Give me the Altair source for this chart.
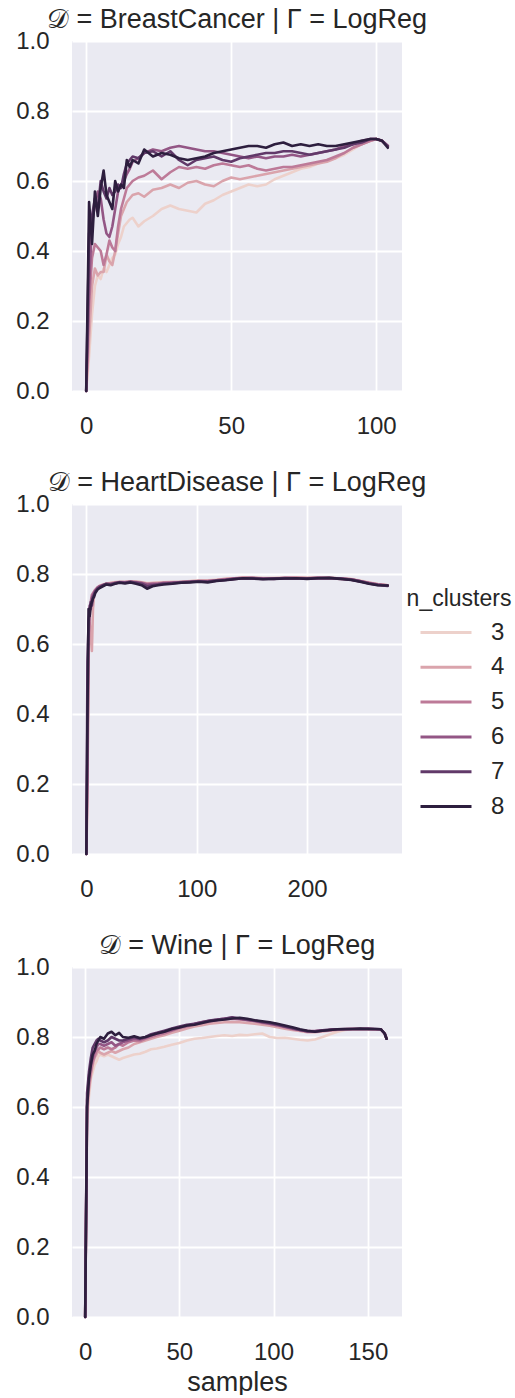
import altair as alt
import pandas as pd

CLUSTERS = [3, 4, 5, 6, 7, 8]
PALETTE = ["#edd1cb", "#daa4ac", "#bd7a98", "#935685", "#613969", "#2d1e3e"]

TITLES = [
    "𝒟 = BreastCancer | Γ = LogReg",
    "𝒟 = HeartDisease | Γ = LogReg",
    "𝒟 = Wine | Γ = LogReg",
]
Y_TICKS = [0.0, 0.2, 0.4, 0.6, 0.8, 1.0]

# ---------------- BreastCancer ----------------
BC_X = [0, 1, 2, 3, 4, 5, 6, 7, 8, 9, 10, 11, 12, 13, 14, 15, 16, 18, 20,
        23, 26, 29, 32, 35, 38, 41, 44, 47, 50, 53, 56, 59, 62, 65, 68, 71, 74,
        77, 80, 83, 86, 89, 92, 95, 98, 100, 102, 104]
BC_XTICKS = [0, 50, 100]
BC_3 = [0.00, 0.10, 0.22, 0.30, 0.33, 0.32, 0.35, 0.34, 0.36, 0.38, 0.39, 0.42, 0.44, 0.47, 0.48, 0.49, 0.495,
        0.47, 0.485,
        0.50, 0.52, 0.53, 0.52, 0.515, 0.51, 0.535, 0.545, 0.56, 0.57, 0.58, 0.59, 0.585, 0.59, 0.605, 0.615,
        0.625, 0.635, 0.64, 0.65, 0.66, 0.665, 0.675, 0.69, 0.705, 0.715,
        0.72, 0.715, 0.70]
BC_4 = [0.00, 0.15, 0.30, 0.35, 0.33, 0.34, 0.34, 0.39, 0.37, 0.36, 0.40, 0.45, 0.50, 0.52, 0.54, 0.55, 0.56,
        0.565, 0.555,
        0.575, 0.58, 0.59, 0.58, 0.595, 0.60, 0.59, 0.585, 0.60, 0.61, 0.605, 0.61, 0.615, 0.62, 0.625, 0.63,
        0.635, 0.64, 0.645, 0.65, 0.655, 0.665, 0.68, 0.695, 0.705, 0.715,
        0.72, 0.715, 0.70]
BC_5 = [0.00, 0.25, 0.38, 0.42, 0.41, 0.40, 0.36, 0.39, 0.43, 0.41, 0.40, 0.47, 0.52, 0.55, 0.58, 0.59, 0.60,
        0.61, 0.615,
        0.63, 0.605, 0.625, 0.64, 0.635, 0.64, 0.635, 0.645, 0.65, 0.645, 0.64, 0.645, 0.635, 0.63, 0.635, 0.64,
        0.64, 0.645, 0.65, 0.655, 0.66, 0.67, 0.68, 0.695, 0.705, 0.715,
        0.72, 0.715, 0.70]
BC_6 = [0.00, 0.30, 0.48, 0.53, 0.57, 0.55, 0.49, 0.45, 0.44, 0.47, 0.52, 0.57, 0.59, 0.60, 0.62, 0.635, 0.655,
        0.665, 0.68,
        0.69, 0.685, 0.695, 0.70, 0.695, 0.69, 0.685, 0.685, 0.68, 0.675, 0.67, 0.665, 0.67, 0.665, 0.67, 0.67,
        0.675, 0.67, 0.675, 0.68, 0.685, 0.69, 0.70, 0.705, 0.715, 0.72,
        0.72, 0.715, 0.70]
BC_7 = [0.00, 0.45, 0.50, 0.55, 0.52, 0.60, 0.57, 0.55, 0.58, 0.56, 0.57, 0.59, 0.58, 0.62, 0.65, 0.66, 0.67,
        0.665, 0.68,
        0.685, 0.67, 0.685, 0.66, 0.645, 0.66, 0.665, 0.67, 0.66, 0.655, 0.665, 0.67, 0.675, 0.68, 0.68, 0.685,
        0.685, 0.68, 0.675, 0.68, 0.685, 0.69, 0.695, 0.705, 0.71, 0.72,
        0.72, 0.715, 0.70]
BC_8 = [0.00, 0.54, 0.42, 0.57, 0.50, 0.58, 0.63, 0.56, 0.54, 0.52, 0.60, 0.57, 0.59, 0.58, 0.66, 0.64, 0.66,
        0.65, 0.69,
        0.67, 0.68, 0.675, 0.665, 0.66, 0.665, 0.67, 0.68, 0.685, 0.69, 0.695, 0.70, 0.70, 0.695, 0.705, 0.71,
        0.70, 0.705, 0.70, 0.705, 0.70, 0.70, 0.705, 0.71, 0.715, 0.72,
        0.72, 0.715, 0.695]

# ---------------- HeartDisease ----------------
HD_X = [0, 1, 2, 3, 4, 5, 6, 7, 8, 10, 12, 15, 18, 22, 26, 30, 35, 40, 45, 50, 55, 60, 65, 70,
        78, 86, 94, 102, 110, 118, 126, 134, 142, 150, 160, 170, 180, 190, 200, 210, 220, 230, 240,
        248, 256, 264, 273]
HD_XTICKS = [0, 100, 200]
HD_3 = [0.00, 0.15, 0.55, 0.68, 0.71, 0.73, 0.74, 0.748, 0.754,
        0.761, 0.766, 0.77, 0.773, 0.775, 0.777, 0.778,
        0.778, 0.779, 0.779, 0.777, 0.774, 0.775, 0.776, 0.777,
        0.777, 0.778, 0.78, 0.781, 0.782, 0.784, 0.786, 0.788, 0.79, 0.79,
        0.789, 0.789, 0.789, 0.79, 0.789, 0.79, 0.789, 0.788, 0.786,
        0.781, 0.776, 0.771, 0.768]
HD_4 = [0.00, 0.30, 0.60, 0.66, 0.62, 0.58, 0.70, 0.74, 0.75,
        0.76, 0.765, 0.768, 0.771, 0.774, 0.776, 0.777,
        0.776, 0.779, 0.778, 0.776, 0.773, 0.774, 0.775, 0.776,
        0.777, 0.778, 0.779, 0.781, 0.782, 0.783, 0.786, 0.788, 0.79, 0.789,
        0.788, 0.788, 0.789, 0.79, 0.789, 0.789, 0.789, 0.787, 0.785,
        0.78, 0.775, 0.771, 0.768]
HD_5 = [0.00, 0.20, 0.58, 0.69, 0.72, 0.74, 0.745, 0.75, 0.755,
        0.762, 0.766, 0.769, 0.772, 0.773, 0.775, 0.776,
        0.777, 0.778, 0.777, 0.775, 0.772, 0.773, 0.773, 0.775,
        0.776, 0.776, 0.778, 0.779, 0.78, 0.782, 0.785, 0.787, 0.789, 0.788,
        0.788, 0.787, 0.788, 0.789, 0.788, 0.789, 0.788, 0.786, 0.784,
        0.779, 0.775, 0.77, 0.768]
HD_6 = [0.00, 0.30, 0.62, 0.71, 0.70, 0.73, 0.74, 0.745, 0.752,
        0.76, 0.765, 0.767, 0.771, 0.772, 0.773, 0.777,
        0.776, 0.777, 0.776, 0.774, 0.77, 0.771, 0.772, 0.774,
        0.775, 0.777, 0.777, 0.78, 0.779, 0.782, 0.784, 0.786, 0.788, 0.789,
        0.787, 0.786, 0.789, 0.788, 0.787, 0.788, 0.789, 0.787, 0.785,
        0.78, 0.774, 0.77, 0.767]
HD_7 = [0.00, 0.55, 0.66, 0.70, 0.72, 0.71, 0.735, 0.74, 0.75,
        0.758, 0.762, 0.768, 0.772, 0.77, 0.774, 0.776,
        0.775, 0.778, 0.775, 0.772, 0.765, 0.768, 0.77, 0.772,
        0.774, 0.776, 0.778, 0.779, 0.778, 0.781, 0.783, 0.786, 0.787, 0.788,
        0.786, 0.787, 0.788, 0.787, 0.787, 0.789, 0.788, 0.787, 0.784,
        0.779, 0.773, 0.769, 0.766]
HD_8 = [0.00, 0.40, 0.70, 0.68, 0.71, 0.72, 0.73, 0.735, 0.745,
        0.755, 0.76, 0.765, 0.77, 0.768, 0.772, 0.775,
        0.773, 0.776, 0.772, 0.768, 0.758, 0.765, 0.768, 0.77,
        0.772, 0.775, 0.776, 0.778, 0.776, 0.78, 0.782, 0.785, 0.788, 0.787,
        0.785, 0.786, 0.787, 0.788, 0.786, 0.788, 0.789, 0.786, 0.783,
        0.778, 0.772, 0.768, 0.767]

# ---------------- Wine ----------------
WI_X = [0, 1, 2, 3, 4, 5, 6, 7, 8, 10, 12, 14, 16, 18, 20, 23, 26, 29, 32, 35, 38,
        42, 46, 50, 54, 58, 62, 66, 70, 74, 78, 82, 86, 90, 94, 98, 102, 106, 110, 114, 118,
        122, 126, 130, 134, 138, 142, 146, 150, 154, 157, 159, 160]
WI_XTICKS = [0, 50, 100, 150]
WI_3 = [0.00, 0.55, 0.63, 0.68, 0.70, 0.72, 0.73, 0.745, 0.75,
        0.745, 0.75, 0.745, 0.74, 0.735, 0.74,
        0.745, 0.75, 0.752, 0.758, 0.765, 0.767,
        0.772, 0.778, 0.783, 0.79, 0.795, 0.797, 0.80, 0.803, 0.805, 0.803,
        0.806, 0.805, 0.808, 0.81, 0.80, 0.797, 0.798, 0.795, 0.792, 0.79,
        0.793, 0.80, 0.808, 0.815, 0.82, 0.822, 0.823, 0.823, 0.822,
        0.822, 0.81, 0.795]
WI_4 = [0.00, 0.58, 0.65, 0.69, 0.72, 0.74, 0.75, 0.76, 0.755,
        0.75, 0.755, 0.76, 0.755, 0.76, 0.765,
        0.77, 0.78, 0.785, 0.79, 0.795, 0.80,
        0.805, 0.812, 0.818, 0.824, 0.83, 0.834, 0.838, 0.84, 0.842, 0.843,
        0.842, 0.84, 0.838, 0.835, 0.832, 0.828, 0.824, 0.82, 0.817, 0.814,
        0.814, 0.816, 0.818, 0.82, 0.822, 0.823, 0.823, 0.823, 0.822,
        0.822, 0.81, 0.795]
WI_5 = [0.00, 0.60, 0.66, 0.70, 0.73, 0.745, 0.76, 0.765, 0.77,
        0.765, 0.77, 0.765, 0.77, 0.78, 0.775,
        0.785, 0.79, 0.788, 0.795, 0.80, 0.805,
        0.81, 0.818, 0.825, 0.83, 0.836, 0.84, 0.844, 0.848, 0.85, 0.852,
        0.85, 0.848, 0.845, 0.84, 0.837, 0.833, 0.828, 0.823, 0.82, 0.816,
        0.816, 0.818, 0.82, 0.821, 0.822, 0.823, 0.823, 0.823, 0.822,
        0.822, 0.81, 0.795]
WI_6 = [0.00, 0.62, 0.69, 0.72, 0.74, 0.76, 0.77, 0.78, 0.78,
        0.775, 0.78, 0.785, 0.775, 0.78, 0.785,
        0.79, 0.795, 0.793, 0.798, 0.805, 0.81,
        0.815, 0.82, 0.828, 0.832, 0.838, 0.843, 0.846, 0.849, 0.853, 0.855,
        0.852, 0.849, 0.846, 0.842, 0.838, 0.834, 0.829, 0.824, 0.82, 0.817,
        0.817, 0.819, 0.82, 0.822, 0.823, 0.823, 0.823, 0.823, 0.822,
        0.822, 0.81, 0.795]
WI_7 = [0.00, 0.64, 0.70, 0.74, 0.77, 0.78, 0.79, 0.795, 0.79,
        0.785, 0.79, 0.80, 0.795, 0.79, 0.79,
        0.795, 0.80, 0.795, 0.80, 0.808, 0.812,
        0.818, 0.824, 0.83, 0.835, 0.838, 0.842, 0.847, 0.85, 0.852, 0.856,
        0.853, 0.85, 0.847, 0.843, 0.84, 0.836, 0.83, 0.826, 0.82, 0.816,
        0.816, 0.819, 0.821, 0.822, 0.822, 0.823, 0.823, 0.824, 0.823,
        0.822, 0.81, 0.795]
WI_8 = [0.00, 0.60, 0.68, 0.72, 0.75, 0.76, 0.78, 0.79, 0.80,
        0.795, 0.81, 0.815, 0.805, 0.812, 0.80,
        0.798, 0.802, 0.797, 0.80, 0.805, 0.81,
        0.815, 0.823, 0.827, 0.833, 0.835, 0.84, 0.845, 0.848, 0.85, 0.853,
        0.855, 0.852, 0.848, 0.845, 0.842, 0.838, 0.833, 0.828, 0.822, 0.818,
        0.815, 0.818, 0.82, 0.822, 0.823, 0.823, 0.824, 0.823, 0.823,
        0.822, 0.81, 0.795]


def long_frame(xs, series):
    rows = []
    for k, ys in zip(CLUSTERS, series):
        assert len(ys) == len(xs), (k, len(ys), len(xs))
        for x, y in zip(xs, ys):
            rows.append({"samples": x, "acc": y, "n_clusters": k})
    return pd.DataFrame(rows)


FONT = "Liberation Sans"
TXT = "#262626"
TICK_FS = 24
TITLE_FS = 27

COLOR = alt.Color(
    "n_clusters:O",
    scale=alt.Scale(domain=CLUSTERS, range=PALETTE),
    legend=alt.Legend(
        title="n_clusters",
        orient="none",
        legendX=335,
        legendY=547,
        symbolType="stroke",
        symbolSize=2600,
        symbolStrokeWidth=3,
        symbolOffset=6,
        labelFontSize=TICK_FS,
        titleFontSize=23,
        titleFontWeight="normal",
        titleAnchor="middle",
        labelFont=FONT,
        titleFont=FONT,
        labelColor=TXT,
        titleColor=TXT,
        clipHeight=33,
        rowPadding=1.8,
        labelOffset=18,
        titlePadding=5,
    ),
)


def panel(df, title, xdom, xticks, with_xtitle):
    xaxis = alt.Axis(values=xticks, format="d")
    xscale = alt.Scale(domain=xdom, nice=False, zero=False)
    if with_xtitle:
        x = alt.X("samples:Q", title="samples", scale=xscale, axis=xaxis)
    else:
        x = alt.X("samples:Q", title=None, scale=xscale, axis=xaxis)
    return (
        alt.Chart(
            df,
            title=alt.TitleParams(
                text=title,
                font=FONT,
                fontSize=TITLE_FS,
                fontWeight="normal",
                color=TXT,
                anchor="middle",
                offset=-5,
            ),
        )
        .mark_line(strokeWidth=2.6, strokeJoin="round", strokeCap="round")
        .encode(
            x=x,
            y=alt.Y(
                "acc:Q",
                title=None,
                scale=alt.Scale(domain=[0, 1], nice=False, zero=False),
                axis=alt.Axis(values=Y_TICKS, format=".1f"),
            ),
            color=COLOR,
        )
        .properties(width=330, height=350)
    )


bc = long_frame(BC_X, [BC_3, BC_4, BC_5, BC_6, BC_7, BC_8])
hd = long_frame(HD_X, [HD_3, HD_4, HD_5, HD_6, HD_7, HD_8])
wi = long_frame(WI_X, [WI_3, WI_4, WI_5, WI_6, WI_7, WI_8])

chart = (
    alt.vconcat(
        panel(bc, TITLES[0], [-4.9, 108.9], BC_XTICKS, False),
        panel(hd, TITLES[1], [-13.0, 286.0], HD_XTICKS, False),
        panel(wi, TITLES[2], [-7.0, 168.2], WI_XTICKS, True),
        spacing=31,
    )
    .properties(padding={"left": 15, "top": 6, "right": 0, "bottom": 0}, background="white")
    .configure_view(fill="#eaeaf2", strokeWidth=0)
    .configure_axis(
        grid=True,
        gridColor="white",
        gridWidth=1.8,
        domain=False,
        ticks=False,
        labelFont=FONT,
        labelFontSize=TICK_FS,
        labelColor=TXT,
        labelPadding=23,
        titleFont=FONT,
        titleFontSize=TITLE_FS,
        titleFontWeight="normal",
        titleColor=TXT,
        titlePadding=5,
    )
)

chart.save("out.html", embed_options={"renderer": "svg", "actions": False})
